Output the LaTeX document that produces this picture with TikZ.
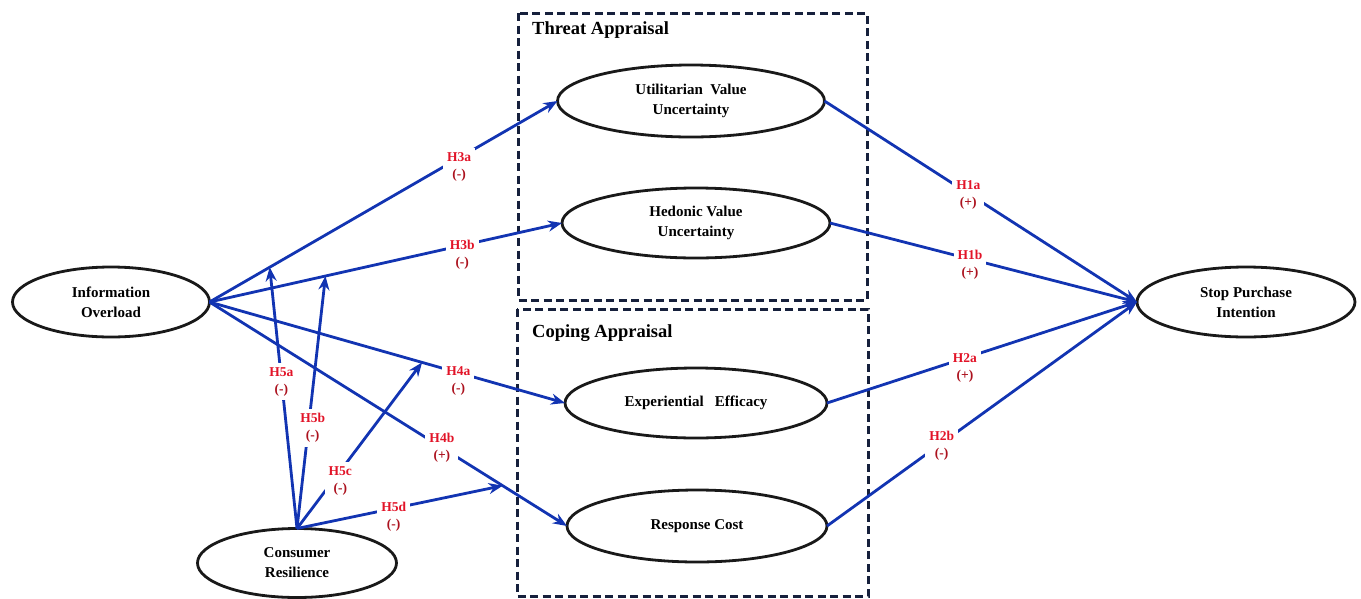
\documentclass[tikz,border=0pt]{standalone}
\usepackage{fontspec}
\setmainfont{Liberation Serif}
\usetikzlibrary{shapes.geometric,arrows.meta}
\definecolor{pathblue}{RGB}{18,52,178}
\definecolor{hypred}{RGB}{226,20,40}
\definecolor{signred}{RGB}{172,18,30}
\definecolor{boxnavy}{RGB}{22,32,60}
\newcommand{\hyplabel}[2]{#1\\\textcolor{signred}{(#2)}}
\tikzset{
	construct/.style={draw=black!90,line width=2.8pt,ellipse,inner sep=0,outer sep=0,align=center,font=\fontsize{15}{20}\selectfont\bfseries},
	path arrow/.style={draw=pathblue,line width=2.8pt,-{Stealth[length=14pt,width=11pt]}},
	hyp/.style={fill=white,inner sep=4pt,align=center,text=hypred,font=\fontsize{13.5}{17}\selectfont\bfseries},
	appraisal/.style={draw=boxnavy,line width=3pt,dash pattern=on 8pt off 4.5pt},
	appraisal title/.style={anchor=west,inner sep=0,font=\fontsize{18.5}{22}\selectfont\bfseries}
}
\begin{document}
\begin{tikzpicture}[x=1pt,y=-1pt]
	\useasboundingbox (0,0) rectangle (1361,598);
	\draw[appraisal] (518,13) rectangle (867,300);
	\draw[appraisal] (517,309) rectangle (868,596);
	\node[appraisal title] (threat) at (532,30) {Threat Appraisal};
	\node[appraisal title] (coping) at (532,333) {Coping Appraisal};
	\node[construct,minimum width=197pt,minimum height=70pt] (IO) at (111,302) {Information\\Overload};
	\node[construct,minimum width=199pt,minimum height=69pt] (CR) at (297,563) {Consumer\\Resilience};
	\node[construct,minimum width=267pt,minimum height=72pt] (UVU) at (691,101) {Utilitarian\ \ Value\\Uncertainty};
	\node[construct,minimum width=268pt,minimum height=70pt] (HVU) at (696,223) {Hedonic\ Value\\Uncertainty};
	\node[construct,minimum width=262pt,minimum height=70pt] (EE) at (696,403) {Experiential\ \ \ Efficacy};
	\node[construct,minimum width=260pt,minimum height=72pt] (RC) at (697,526) {Response Cost};
	\node[construct,minimum width=218pt,minimum height=70pt] (SPI) at (1246,302) {Stop Purchase\\Intention};
	\draw[path arrow] (IO.east) -- coordinate[pos=0.173] (m3a) node[hyp,pos=0.717,yshift=-9pt] {\hyplabel{H3a}{-}} (UVU.west);
	\draw[path arrow] (IO.east) -- coordinate[pos=0.329] (m3b) node[hyp,pos=0.717,yshift=-9pt] {\hyplabel{H3b}{-}} (HVU.west);
	\draw[path arrow] (IO.east) -- coordinate[pos=0.598] (m4a) node[hyp,pos=0.70,yshift=-8pt] {\hyplabel{H4a}{-}} (EE.west);
	\draw[path arrow] (IO.east) -- coordinate[pos=0.82] (m4b) node[hyp,pos=0.65] {\hyplabel{H4b}{+}} (RC.west);
	\draw[path arrow] (CR.north) -- node[hyp,pos=0.57,yshift=-2pt] {\hyplabel{H5a}{-}} (m3a);
	\draw[path arrow] (CR.north) -- node[hyp,pos=0.41,xshift=4pt,yshift=-3pt] {\hyplabel{H5b}{-}} (m3b);
	\draw[path arrow] (CR.north) -- node[hyp,pos=0.33,xshift=2pt,yshift=-7pt] {\hyplabel{H5c}{-}} (m4a);
	\draw[path arrow] (CR.north) -- node[hyp,pos=0.47,yshift=-8pt] {\hyplabel{H5d}{-}} (m4b);
	\draw[path arrow] (UVU.east) -- node[hyp,pos=0.46,yshift=-2pt] {\hyplabel{H1a}{+}} (SPI.west);
	\draw[path arrow] (HVU.east) -- node[hyp,pos=0.456,yshift=-6pt] {\hyplabel{H1b}{+}} (SPI.west);
	\draw[path arrow] (EE.east) -- node[hyp,pos=0.445,yshift=-10pt] {\hyplabel{H2a}{+}} (SPI.west);
	\draw[path arrow] (RC.east) -- node[hyp,pos=0.37,yshift=-3pt] {\hyplabel{H2b}{-}} (SPI.west);
\end{tikzpicture}
\end{document}
